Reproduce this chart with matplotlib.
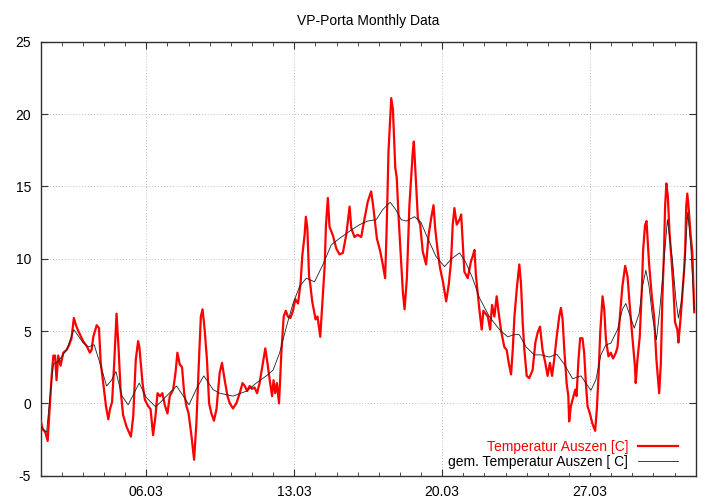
import datetime
import numpy as np
import matplotlib
matplotlib.use('Agg')
import matplotlib.pyplot as plt
import matplotlib.dates as mdates

plt.rcParams['font.family'] = ['Liberation Sans', 'DejaVu Sans']
plt.rcParams['axes.unicode_minus'] = False

# days since 01.03 00:00 and temperature readings
red_days = [0.00, 0.10, 0.22, 0.33, 0.44, 0.52, 0.60, 0.68, 0.75, 0.83, 0.94, 1.07, 1.23, 1.34, 1.46,
            1.57, 1.67, 1.78, 2.01, 2.20, 2.33, 2.41, 2.49, 2.65, 2.76, 2.84, 2.96, 3.09, 3.20, 3.28,
            3.38, 3.48, 3.59, 3.69, 3.78, 3.90, 4.06, 4.27, 4.38, 4.50, 4.61, 4.67, 4.82, 4.93, 5.09,
            5.20, 5.32, 5.43, 5.53, 5.65, 5.76, 5.87, 6.00, 6.11, 6.27, 6.38, 6.47, 6.58, 6.69, 6.79,
            6.90, 7.00, 7.14, 7.26, 7.37, 7.48, 7.58, 7.66, 7.76, 7.87, 7.97, 8.08, 8.20, 8.32, 8.47,
            8.58, 8.71, 8.84, 8.95, 9.10, 9.26, 9.42, 9.55, 9.66, 9.77, 9.89, 10.00, 10.12, 10.24, 10.36,
            10.52, 10.63, 10.73, 10.84, 10.95, 11.02, 11.10, 11.18, 11.28, 11.39, 11.50, 11.60, 11.70, 11.82, 11.94,
            12.05, 12.18, 12.30, 12.38, 12.49, 12.55, 12.62, 12.70, 12.76, 12.85, 13.01, 13.10, 13.23, 13.33, 13.44,
            13.50, 13.59, 13.67, 13.83, 13.99, 14.14, 14.30, 14.46, 14.62, 14.70, 14.85, 15.00, 15.17, 15.33, 15.48,
            15.64, 15.73, 15.91, 16.07, 16.19, 16.30, 16.37, 16.46, 16.59, 16.67, 16.78, 16.85, 16.94, 17.06, 17.14,
            17.22, 17.33, 17.45, 17.61, 17.66, 17.75, 17.85, 17.96, 18.08, 18.24, 18.36, 18.48, 18.59, 18.67, 18.79,
            18.90, 19.03, 19.19, 19.31, 19.42, 19.50, 19.58, 19.69, 19.82, 19.90, 19.97, 20.05, 20.21, 20.36, 20.45,
            20.53, 20.60, 20.76, 20.87, 20.95, 21.16, 21.27, 21.36, 21.47, 21.58, 21.68, 21.79, 21.94, 22.05, 22.15,
            22.26, 22.34, 22.42, 22.53, 22.65, 22.73, 22.81, 22.89, 23.00, 23.12, 23.28, 23.41, 23.52, 23.63, 23.75,
            23.88, 23.99, 24.10, 24.20, 24.30, 24.42, 24.54, 24.62, 24.70, 24.78, 24.89, 24.97, 25.01, 25.09, 25.17,
            25.30, 25.36, 25.45, 25.53, 25.64, 25.72, 25.80, 25.88, 25.99, 26.11, 26.24, 26.32, 26.40, 26.48, 26.59,
            26.67, 26.75, 26.87, 26.98, 27.09, 27.22, 27.30, 27.41, 27.53, 27.66, 27.77, 27.88, 28.00, 28.12, 28.16,
            28.24, 28.35, 28.45, 28.51, 28.60, 28.67, 28.79, 28.92, 29.03, 29.14, 29.27, 29.35, 29.42, 29.50, 29.55,
            29.61, 29.68, 29.76, 29.82, 29.93, 30.02, 30.13, 30.18, 30.29, 30.45, 30.50, 30.55, 30.60, 30.66, 30.76,
            30.84, 30.93]
red_temp = [-1.2, -1.8, -2.0, -2.6, 0.0, 1.9, 3.3, 3.3, 1.6, 3.3, 2.6, 3.5, 3.7, 4.0, 4.5,
            5.9, 5.4, 5.0, 4.3, 3.9, 3.5, 3.7, 4.6, 5.4, 5.2, 2.8, 1.4, -0.2, -1.1, -0.4,
            0.1, 2.8, 6.2, 3.7, 0.95, -0.8, -1.6, -2.3, -0.9, 3.0, 4.3, 3.9, 1.4, 0.25, -0.2,
            -0.4, -2.2, -0.9, 0.7, 0.5, 0.7, -0.1, -0.7, 0.5, 0.95, 2.1, 3.5, 2.7, 2.5, 0.7,
            -0.2, -0.7, -2.3, -3.9, -1.35, 2.6, 6.0, 6.5, 5.1, 3.0, 0.0, -0.7, -1.2, -0.4, 2.1,
            2.8, 1.6, 0.5, 0.0, -0.35, 0.0, 0.7, 1.4, 1.2, 0.85, 1.2, 1.0, 1.1, 0.7, 1.4,
            2.8, 3.8, 2.8, 1.6, 0.5, 1.6, 0.7, 1.4, 0.0, 3.5, 6.0, 6.4, 6.0, 5.9, 6.4,
            7.2, 6.9, 8.3, 10.2, 11.65, 12.9, 12.1, 8.8, 8.2, 7.05, 5.8, 6.0, 4.6, 6.9, 9.5,
            12.3, 14.2, 12.2, 11.6, 10.7, 10.3, 10.4, 11.65, 13.6, 12.1, 11.5, 11.65, 11.5, 12.8, 13.95,
            14.65, 13.7, 11.4, 10.5, 9.6, 8.65, 11.9, 17.4, 21.1, 20.3, 16.3, 15.6, 12.8, 9.8, 7.7,
            6.5, 8.65, 13.7, 17.4, 18.1, 15.6, 12.8, 12.35, 10.5, 9.6, 11.65, 12.8, 13.7, 12.1, 10.5,
            9.35, 8.45, 7.05, 8.2, 9.8, 12.35, 13.5, 12.35, 12.7, 13.05, 11.2, 9.1, 8.65, 9.8, 10.2,
            10.6, 8.8, 6.5, 5.1, 6.4, 6.0, 5.1, 6.8, 6.0, 7.4, 6.2, 5.0, 3.9, 3.7, 2.8,
            2.0, 3.7, 6.0, 7.9, 9.6, 8.3, 5.6, 3.7, 1.9, 1.75, 2.3, 4.2, 4.9, 5.3, 3.7,
            2.8, 1.9, 2.8, 1.9, 3.0, 4.6, 6.0, 6.6, 5.8, 3.7, 1.4, 0.5, -1.25, -0.2, 0.25,
            0.95, 0.5, 3.0, 4.5, 4.5, 3.5, 1.4, -0.2, -0.7, -1.4, -1.9, -0.4, 1.9, 4.9, 7.4,
            6.5, 4.4, 3.25, 3.5, 3.1, 3.5, 3.9, 6.0, 8.1, 9.5, 8.8, 6.7, 4.6, 2.6, 1.4,
            3.0, 4.6, 7.9, 10.6, 12.3, 12.6, 9.7, 7.4, 6.0, 3.0, 0.7, 2.8, 7.2, 10.6, 13.6,
            15.2, 14.3, 11.8, 10.6, 8.3, 5.6, 5.1, 4.2, 6.0, 9.2, 10.6, 13.6, 14.5, 13.6, 11.6,
            10.4, 6.3]

avg_days = [0.00, 0.28, 0.44, 0.60, 0.83, 1.23, 1.57, 2.00, 2.25, 2.53, 2.80, 3.12, 3.35, 3.56, 3.85,
            4.14, 4.66, 5.00, 5.45, 5.95, 6.43, 6.75, 7.02, 7.37, 7.72, 8.16, 8.47, 9.10, 9.75, 10.20,
            10.68, 11.00, 11.31, 11.63, 11.94, 12.26, 12.57, 12.96, 13.36, 13.75, 14.14, 14.62, 15.09, 15.48, 15.88,
            16.19, 16.54, 16.80, 17.06, 17.30, 17.69, 18.00, 18.32, 18.71, 19.11, 19.45, 19.82, 20.10, 20.44, 20.76,
            21.23, 21.71, 22.10, 22.42, 22.65, 22.97, 23.36, 23.68, 24.07, 24.42, 24.78, 25.17, 25.57, 25.80, 26.04,
            26.27, 26.51, 26.75, 26.98, 27.30, 27.53, 27.69, 27.88, 28.09, 28.32, 28.48, 28.64, 28.79, 28.95, 29.14,
            29.30, 29.46, 29.66, 29.90, 30.06, 30.18, 30.34, 30.48, 30.62, 30.76, 30.93]
avg_temp = [-1.6, -2.0, 0.5, 2.7, 2.9, 3.7, 5.1, 4.2, 3.9, 4.05, 2.8, 1.2, 1.6, 2.2, 0.5,
            -0.1, 1.4, 0.4, -0.25, 0.5, 1.2, 0.5, -0.1, 1.0, 1.9, 0.95, 0.7, 0.5, 0.85, 1.4,
            1.9, 2.3, 3.5, 5.3, 6.9, 8.1, 8.65, 8.4, 9.6, 10.95, 11.4, 11.9, 12.35, 12.6, 12.7,
            13.4, 13.9, 13.4, 12.7, 12.6, 12.9, 12.5, 11.4, 10.15, 9.45, 10.0, 10.4, 9.8, 8.65, 7.3,
            6.0, 5.1, 4.6, 4.75, 4.75, 3.9, 3.35, 3.35, 3.2, 3.4, 2.7, 1.7, 1.9, 1.4, 0.9,
            1.6, 3.35, 4.05, 4.15, 5.1, 6.5, 6.9, 6.1, 5.2, 6.2, 8.1, 9.2, 8.1, 6.0, 4.4,
            6.5, 9.2, 12.7, 9.9, 7.2, 5.9, 7.2, 9.7, 13.2, 11.0, 6.5]

start = mdates.date2num(datetime.datetime(2011, 3, 1))
end = mdates.date2num(datetime.datetime(2011, 4, 1))

fig = plt.figure(figsize=(7.2, 5.04), dpi=100)
ax = fig.add_axes([0.0565, 0.0562, 0.9098, 0.8611])

ax.plot(start + np.array(red_days), red_temp, color='#ff0000', lw=1.6,
        label='Temperatur Auszen [C]', zorder=3)
ax.plot(start + np.array(avg_days), avg_temp, color='#202020', lw=0.6,
        label='gem. Temperatur Auszen [ C]', zorder=4)

ax.xaxis_date()
ax.set_xlim(start, end)
ax.set_ylim(-5, 25)
ax.set_yticks([-5, 0, 5, 10, 15, 20, 25])
ax.xaxis.set_major_locator(mdates.DayLocator(bymonthday=[6, 13, 20, 27]))
ax.xaxis.set_major_formatter(mdates.DateFormatter('%d.%m'))
ax.xaxis.set_minor_locator(mdates.DayLocator())

ax.tick_params(which='major', direction='in', length=5, width=0.8, color='#303030',
               top=True, right=True, labelsize=10, pad=7)
ax.tick_params(which='minor', direction='in', length=3, width=0.6, color='#303030',
               top=True, bottom=True)
ax.grid(True, which='major', color='#a8a8a8', lw=0.6, linestyle=(0, (1, 2.5)))
for s in ax.spines.values():
    s.set_color('#303030')
    s.set_linewidth(1.0)

ax.set_title('VP-Porta Monthly Data', fontsize=10, pad=12)

leg = ax.legend(loc='lower right', bbox_to_anchor=(0.984, 0.0), markerfirst=False,
                frameon=True, fontsize=10, handlelength=2.9, handletextpad=0.7,
                labelspacing=0.05, borderpad=0.3, borderaxespad=0.2, fancybox=False)
leg.get_frame().set_edgecolor('none')
leg.get_frame().set_facecolor('white')
leg.get_frame().set_alpha(1.0)
leg.get_texts()[0].set_color('#ff0000')

fig.savefig('out.png', dpi=100)
